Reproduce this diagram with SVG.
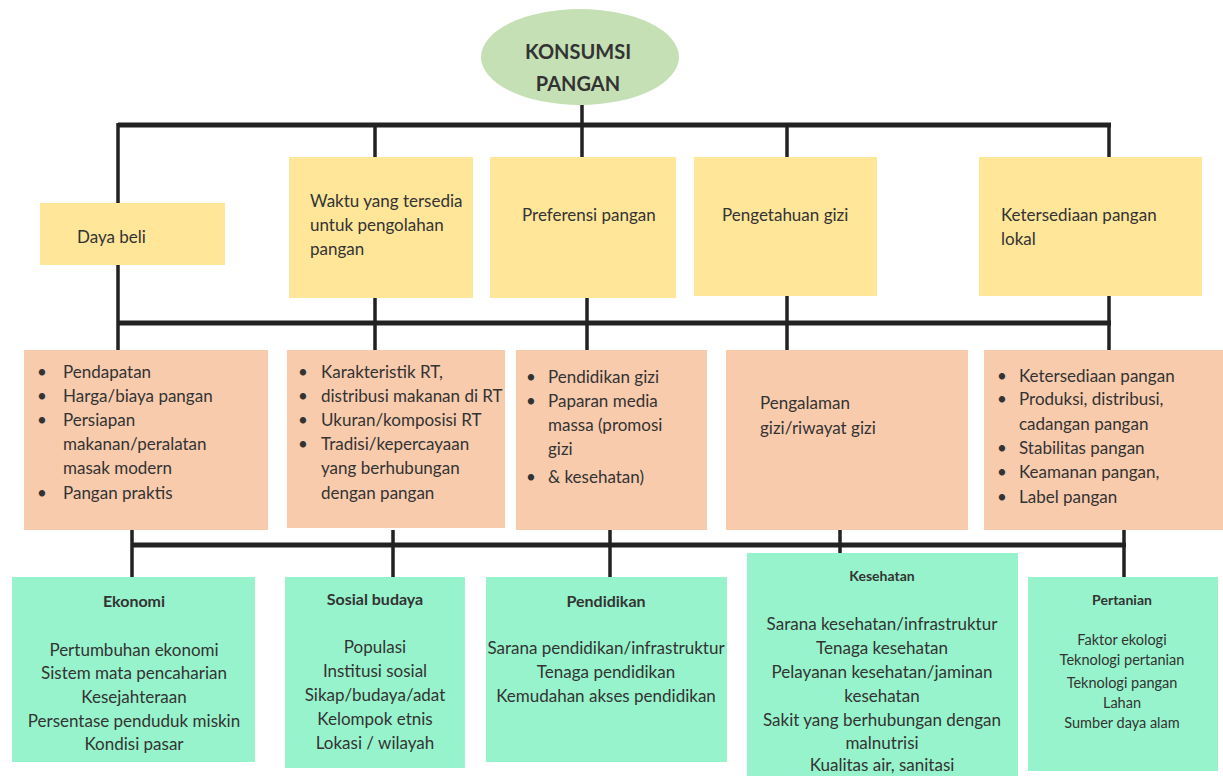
<svg xmlns="http://www.w3.org/2000/svg" width="1223" height="776" viewBox="0 0 1223 776">
<style>
text{font-family:Lato,"Noto Sans","Liberation Sans",sans-serif;fill:#333;}
.y{fill:#ffe699;}
.o{fill:#f8cbad;}
.g{fill:#97f3cb;}
.yt{font-size:17px;}
.ot{font-size:17px;}
.gt{font-size:17px;text-anchor:middle;}
.gh{font-size:16px;font-weight:bold;text-anchor:middle;}
.pt{font-size:14.5px;text-anchor:middle;}
.ph{font-size:14px;font-weight:bold;text-anchor:middle;}
.bus{stroke:#222;stroke-width:5;fill:none;}
.ln{stroke:#222;stroke-width:3.5;fill:none;}
</style>
<rect width="1223" height="776" fill="#fff"/>
<g id="connectors">
<path class="bus" d="M118 125H1111"/>
<path class="ln" d="M582 105V125M375 125V157M582 125V157M787 125V157M1109 125V157M118 123V203"/>
<path class="bus" d="M118 323H1111"/>
<path class="ln" d="M118 265V350M375 298V350M587 298V350M787 296V350M1109 296V350"/>
<path class="bus" d="M132 545H1126"/>
<path class="ln" d="M132 530V577M393 530V577M610 530V577M840 530V553M1124 530V577"/>
</g>
<g id="root">
<ellipse cx="580" cy="57" rx="99" ry="48" fill="#c5e0b4"/>
<text x="578" y="59" text-anchor="middle" style="font-size:20px;font-weight:bold">KONSUMSI</text>
<text x="578" y="91" text-anchor="middle" style="font-size:20px;font-weight:bold">PANGAN</text>
</g>
<g id="y1"><rect class="y" x="40" y="203" width="185" height="62"/><text class="yt" x="77" y="243">Daya beli</text></g>
<g id="y2"><rect class="y" x="289" y="157" width="184" height="141"/><text class="yt" x="310" y="207">Waktu yang tersedia</text><text class="yt" x="310" y="231">untuk pengolahan</text><text class="yt" x="310" y="255">pangan</text></g>
<g id="y3"><rect class="y" x="490" y="157" width="186" height="141"/><text class="yt" x="522" y="221">Preferensi pangan</text></g>
<g id="y4"><rect class="y" x="694" y="157" width="183" height="139"/><text class="yt" x="722" y="221">Pengetahuan gizi</text></g>
<g id="y5"><rect class="y" x="979" y="157" width="223" height="139"/><text class="yt" x="1001" y="221">Ketersediaan pangan</text><text class="yt" x="1001" y="245">lokal</text></g>
<g id="o1"><rect class="o" x="24" y="350" width="244" height="180"/>
<text class="ot" x="37" y="378">•</text><text class="ot" x="63" y="378">Pendapatan</text>
<text class="ot" x="37" y="402">•</text><text class="ot" x="63" y="402">Harga/biaya pangan</text>
<text class="ot" x="37" y="426">•</text><text class="ot" x="63" y="426">Persiapan</text>
<text class="ot" x="63" y="450">makanan/peralatan</text>
<text class="ot" x="63" y="474">masak modern</text>
<text class="ot" x="37" y="499">•</text><text class="ot" x="63" y="499">Pangan praktis</text></g>
<g id="o2"><rect class="o" x="287" y="350" width="218" height="178"/>
<text class="ot" x="298" y="378">•</text><text class="ot" x="321" y="378">Karakteristik RT,</text>
<text class="ot" x="298" y="402">•</text><text class="ot" x="321" y="402">distribusi makanan di RT</text>
<text class="ot" x="298" y="426">•</text><text class="ot" x="321" y="426">Ukuran/komposisi RT</text>
<text class="ot" x="298" y="450">•</text><text class="ot" x="321" y="450">Tradisi/kepercayaan</text>
<text class="ot" x="321" y="474">yang berhubungan</text>
<text class="ot" x="321" y="499">dengan pangan</text></g>
<g id="o3"><rect class="o" x="516" y="350" width="191" height="180"/>
<text class="ot" x="526" y="383">•</text><text class="ot" x="548" y="383">Pendidikan gizi</text>
<text class="ot" x="526" y="407">•</text><text class="ot" x="548" y="407">Paparan media</text>
<text class="ot" x="548" y="431">massa (promosi</text>
<text class="ot" x="548" y="455">gizi</text>
<text class="ot" x="526" y="483">•</text><text class="ot" x="548" y="483">&amp;  kesehatan)</text></g>
<g id="o4"><rect class="o" x="726" y="350" width="242" height="180"/>
<text class="ot" x="760" y="409">Pengalaman</text>
<text class="ot" x="760" y="434">gizi/riwayat gizi</text></g>
<g id="o5"><rect class="o" x="984" y="350" width="239" height="180"/>
<text class="ot" x="997" y="382">•</text><text class="ot" x="1019" y="382">Ketersediaan pangan</text>
<text class="ot" x="997" y="405">•</text><text class="ot" x="1019" y="405">Produksi, distribusi,</text>
<text class="ot" x="1019" y="430">cadangan pangan</text>
<text class="ot" x="997" y="454">•</text><text class="ot" x="1019" y="454">Stabilitas pangan</text>
<text class="ot" x="997" y="478">•</text><text class="ot" x="1019" y="478">Keamanan pangan,</text>
<text class="ot" x="997" y="503">•</text><text class="ot" x="1019" y="503">Label pangan</text></g>
<g id="g1"><rect class="g" x="12" y="577" width="243" height="185"/>
<text class="gh" x="134" y="607">Ekonomi</text>
<text class="gt" x="134" y="656">Pertumbuhan ekonomi</text>
<text class="gt" x="134" y="679">Sistem mata pencaharian</text>
<text class="gt" x="134" y="703">Kesejahteraan</text>
<text class="gt" x="134" y="727">Persentase penduduk miskin</text>
<text class="gt" x="134" y="750">Kondisi pasar</text></g>
<g id="g2"><rect class="g" x="285" y="577" width="180" height="191"/>
<text class="gh" x="375" y="605">Sosial budaya</text>
<text class="gt" x="375" y="653">Populasi</text>
<text class="gt" x="375" y="677">Institusi sosial</text>
<text class="gt" x="375" y="701">Sikap/budaya/adat</text>
<text class="gt" x="375" y="725">Kelompok etnis</text>
<text class="gt" x="375" y="749">Lokasi / wilayah</text></g>
<g id="g3"><rect class="g" x="486" y="577" width="241" height="185"/>
<text class="gh" x="606" y="607">Pendidikan</text>
<text class="gt" x="606" y="654">Sarana pendidikan/infrastruktur</text>
<text class="gt" x="606" y="678">Tenaga pendidikan</text>
<text class="gt" x="606" y="702">Kemudahan akses pendidikan</text></g>
<g id="g4"><rect class="g" x="747" y="553" width="271" height="223"/>
<text class="gh" x="882" y="581" style="font-size:14px">Kesehatan</text>
<text class="gt" x="882" y="630">Sarana kesehatan/infrastruktur</text>
<text class="gt" x="882" y="654">Tenaga kesehatan</text>
<text class="gt" x="882" y="678">Pelayanan kesehatan/jaminan</text>
<text class="gt" x="882" y="702">kesehatan</text>
<text class="gt" x="882" y="726">Sakit yang berhubungan dengan</text>
<text class="gt" x="882" y="749">malnutrisi</text>
<text class="gt" x="882" y="771">Kualitas air, sanitasi</text></g>
<g id="g5"><rect class="g" x="1028" y="577" width="190" height="194"/>
<text class="ph" x="1122" y="605">Pertanian</text>
<text class="pt" x="1122" y="645">Faktor ekologi</text>
<text class="pt" x="1122" y="665">Teknologi pertanian</text>
<text class="pt" x="1122" y="688">Teknologi pangan</text>
<text class="pt" x="1122" y="708">Lahan</text>
<text class="pt" x="1122" y="728">Sumber daya alam</text></g>
</svg>
